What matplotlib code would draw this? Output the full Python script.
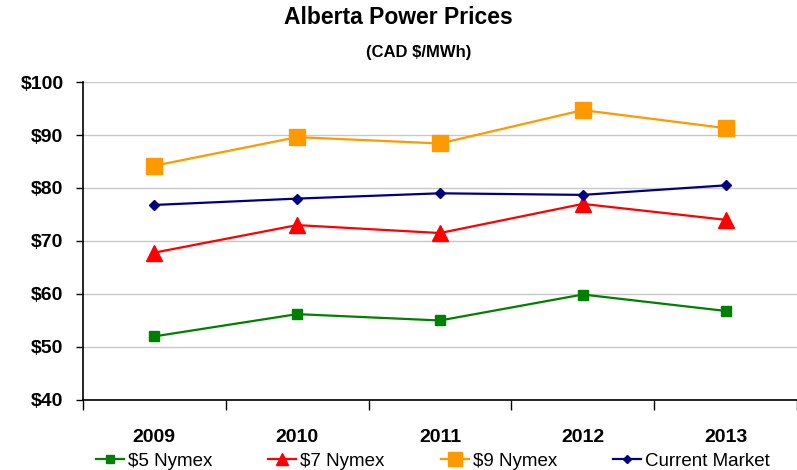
import matplotlib
matplotlib.use("Agg")
from matplotlib import pyplot as plt

plt.rcParams['font.family'] = ['Liberation Sans', 'DejaVu Sans']

years = ["2009", "2010", "2011", "2012", "2013"]
nymex5 = [52.0, 56.2, 55.0, 59.9, 56.8]
nymex7 = [67.8, 73.0, 71.5, 77.0, 74.0]
nymex9 = [84.2, 89.6, 88.4, 94.7, 91.3]
current = [76.8, 78.0, 79.0, 78.7, 80.5]
yticks = [40, 50, 60, 70, 80, 90, 100]

fig = plt.figure(figsize=(7.97, 4.70), dpi=100)
ax = fig.add_axes([0.104, 0.149, 0.896, 0.6765])

x = list(range(len(years)))
ax.plot(x, nymex5, color='#008000', lw=1.6, marker='s', ms=7, label='$5 Nymex')
ax.plot(x, nymex7, color='#FF0000', lw=1.6, marker='^', ms=11, label='$7 Nymex')
ax.plot(x, nymex9, color='#FF9900', lw=1.6, marker='s', ms=12, label='$9 Nymex')
ax.plot(x, current, color='#000080', lw=1.6, marker='D', ms=5, label='Current Market')

ax.set_ylim(40, 100)
ax.set_xlim(-0.5, 4.48)
ax.set_yticks(yticks)
ax.set_yticklabels(["$%d" % v for v in yticks], fontsize=14, fontweight='bold')
ax.yaxis.grid(True, color='#c8c8c8', lw=1)
ax.set_axisbelow(True)
ax.tick_params(axis='y', length=5, width=1, pad=9)

# boundaries as major ticks, year labels on minor ticks
ax.set_xticks([i - 0.5 for i in range(len(years) + 1)])
ax.set_xticklabels([])
ax.set_xticks(x, minor=True)
ax.set_xticklabels(years, minor=True, fontsize=14, fontweight='bold')
ax.tick_params(axis='x', which='major', length=7, width=1)
ax.tick_params(axis='x', which='minor', length=0, pad=21)

for s in ['top', 'right']:
    ax.spines[s].set_visible(False)
for s in ['left', 'bottom']:
    ax.spines[s].set_color('black')
    ax.spines[s].set_linewidth(1.2)

fig.text(0.5, 0.962, "Alberta Power Prices", ha='center', va='center',
         fontsize=16.5, fontweight='bold')
fig.text(0.525, 0.888, "(CAD $/MWh)", ha='center', va='center',
         fontsize=12, fontweight='bold')

fig.legend(loc='lower center', bbox_to_anchor=(0.543, -0.035), ncol=4,
           frameon=False, fontsize=13.5, handlelength=1.5, handletextpad=0.2,
           columnspacing=3.0, numpoints=1, markerscale=0.8)

fig.savefig("out.png", dpi=100)
